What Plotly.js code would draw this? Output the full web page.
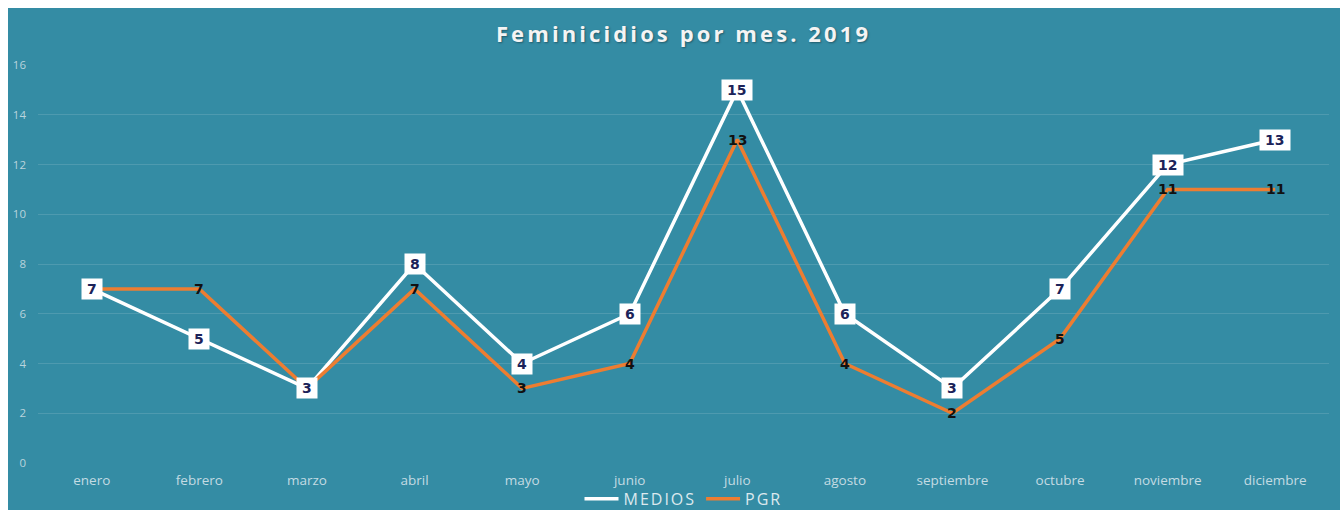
<!DOCTYPE html>
<html>
<head>
<meta charset="utf-8">
<script src="https://cdn.plot.ly/plotly-3.0.1.min.js"></script>
<style>
html, body { margin: 0; padding: 0; background: #ffffff; width: 1340px; height: 510px; overflow: hidden; }
#chart { position: absolute; left: 8px; top: 8px; width: 1332px; height: 502px; }
.gtitle { letter-spacing: 3.1px; }
.legendtext { letter-spacing: 2px; }
</style>
</head>
<body>
<div id="chart"></div>
<script>
const months = ["enero","febrero","marzo","abril","mayo","junio","julio","agosto","septiembre","octubre","noviembre","diciembre"];
const medios = [7,5,3,8,4,6,15,6,3,7,12,13];
const pgr = [7,7,3,7,3,4,13,4,2,5,11,11];
const yTicks = [0,2,4,6,8,10,12,14,16];

const traces = [
  {
    x: months, y: medios, name: "MEDIOS", type: "scatter", mode: "lines",
    line: { color: "#ffffff", width: 3.5 }, hoverinfo: "x+y"
  },
  {
    x: months, y: pgr, name: "PGR", type: "scatter", mode: "lines",
    line: { color: "#ed7d31", width: 3.5 }, hoverinfo: "x+y"
  }
];

const annotations = [];
pgr.forEach((v, i) => {
  annotations.push({
    x: months[i], y: v, xref: "x", yref: "y", text: String(v), showarrow: false,
    font: { family: "DejaVu Sans", size: 14, color: "#111111", weight: "bold" },
    xanchor: "center", yanchor: "middle"
  });
});
medios.forEach((v, i) => {
  const t = String(v);
  annotations.push({
    x: months[i], y: v, xref: "x", yref: "y", text: t, showarrow: false,
    font: { family: "DejaVu Sans", size: 14, color: "#1c2359", weight: "bold" },
    bgcolor: "#ffffff", borderpad: 2, width: t.length * 9.8 + 6,
    xanchor: "center", yanchor: "middle"
  });
});

const layout = {
  width: 1332, height: 502,
  paper_bgcolor: "#348ca4", plot_bgcolor: "#348ca4",
  margin: { l: 30, r: 11, t: 57, b: 47, autoexpand: false },
  title: {
    text: "Feminicidios por mes. 2019",
    font: { family: "Open Sans", size: 22, color: "#f4f4f4", weight: "bold", shadow: "1px 1px 2px rgba(0,0,0,0.35)" },
    x: 0.5, xanchor: "center", y: 0.947, yanchor: "middle", xref: "paper"
  },
  showlegend: true,
  legend: {
    orientation: "h", x: 0.5, xanchor: "center", y: -0.09, yanchor: "middle",
    font: { family: "Open Sans", size: 16, color: "#dce9ee" },
    bgcolor: "rgba(0,0,0,0)", itemwidth: 34, tracegroupgap: 0
  },
  xaxis: {
    type: "category", range: [-0.5, months.length - 0.5],
    showgrid: false, zeroline: false, showline: false,
    tickfont: { family: "Open Sans", size: 13.5, color: "#c3dbe3" },
    ticks: "", ticklabelstandoff: 7, fixedrange: true, automargin: false
  },
  yaxis: {
    range: [0, 16], tickvals: yTicks, ticktext: yTicks.map(String),
    showgrid: true, gridcolor: "rgba(255,255,255,0.13)", gridwidth: 1,
    zeroline: false, showline: false,
    tickfont: { family: "Open Sans", size: 11.5, color: "#b9d4dd" },
    ticks: "", ticklabelstandoff: 11, fixedrange: true, automargin: false
  },
  annotations: annotations
};

Plotly.newPlot("chart", traces, layout, { displayModeBar: false, staticPlot: true });
</script>
</body>
</html>
